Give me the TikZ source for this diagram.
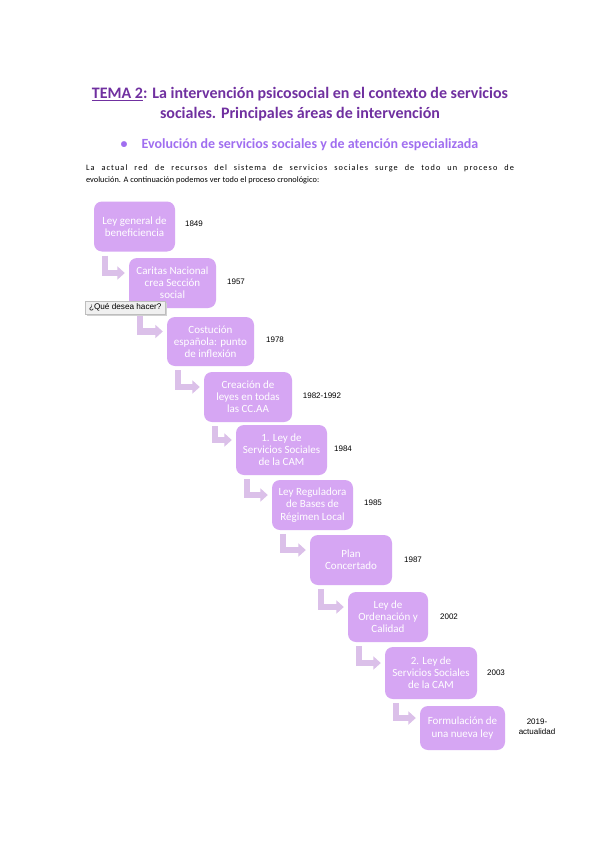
\documentclass[tikz,border=0pt]{standalone}
\usepackage{fontspec}
\setmainfont{Carlito}
\newfontfamily\arialf{Liberation Sans}
\newfontfamily\parwide[LetterSpace=13]{Carlito}
\newfontfamily\parnarrow[LetterSpace=0.5]{Carlito}
\usetikzlibrary{arrows.meta}
\definecolor{titlec}{RGB}{112,48,160}
\definecolor{subc}{RGB}{160,110,240}
\definecolor{boxc}{RGB}{214,166,243}
\definecolor{arrc}{RGB}{219,192,233}
\definecolor{tipfill}{RGB}{240,240,240}
\definecolor{tipdraw}{RGB}{190,190,190}
\begin{document}
\begin{tikzpicture}[x=1pt,y=-1pt,
  tbox/.style={fill=boxc, rounded corners=8pt, text=white, align=center,
    font=\fontsize{11}{12.2}\selectfont, inner sep=0pt},
  yr/.style={font=\arialf\fontsize{8}{9.5}\selectfont, align=center, inner sep=0pt},
  barrow/.style={draw=arrc, line width=6.5pt, line join=miter, line cap=butt,
    -{Triangle[width=13pt,length=7.5pt]}},
  ttl/.style={font=\fontsize{16}{19}\selectfont\bfseries, text=titlec, inner sep=0pt}]
\useasboundingbox (0,0) rectangle (599,848);
\fill[white] (0,0) rectangle (599,848);
% title
\node[ttl] (t1) at (300,94) {\underline{TEMA 2}: La intervención psicosocial en el contexto de servicios};
\node[ttl] (t2) at (300,114) {sociales. Principales áreas de intervención};
\node[font=\fontsize{14}{16}\selectfont\bfseries, text=subc, inner sep=0pt] (sub) at (299.5,145)
  {\textbullet\hspace{14pt}Evolución de servicios sociales y de atención especializada};
\node[font=\fontsize{8.3}{11.5}\selectfont, text width=428pt, align=justify, inner sep=0pt] (par) at (300,174.5)
  {{\parwide La actual red de recursos del sistema de servicios sociales surge de todo un proceso de}\linebreak
   {\parnarrow evolución. A continuación podemos ver todo el proceso cronológico:}};
% boxes
\node[tbox, minimum width=81pt, minimum height=50pt] (b1) at (134.5,226.5) {Ley general de\\beneficiencia};
\node[tbox, minimum width=87pt, minimum height=50pt] (b2) at (172.5,283) {Caritas Nacional\\crea Sección\\social};
\node[tbox, minimum width=87pt, minimum height=49pt] (b3) at (210.5,341.5) {Costución\\española: punto\\de inflexión};
\node[tbox, minimum width=88pt, minimum height=50pt] (b4) at (248,397) {Creación de\\leyes en todas\\las CC.AA};
\node[tbox, minimum width=91pt, minimum height=50pt] (b5) at (281.5,450) {1. Ley de\\Servicios Sociales\\de la CAM};
\node[tbox, minimum width=81pt, minimum height=50pt] (b6) at (312.5,505) {Ley Reguladora\\de Bases de\\Régimen Local};
\node[tbox, minimum width=82pt, minimum height=50pt] (b7) at (351,560) {Plan\\Concertado};
\node[tbox, minimum width=80pt, minimum height=50pt] (b8) at (388,617) {Ley de\\Ordenación y\\Calidad};
\node[tbox, minimum width=92pt, minimum height=52pt] (b9) at (431,673) {2. Ley de\\Servicios Sociales\\de la CAM};
\node[tbox, minimum width=85pt, minimum height=44pt] (b10) at (462.5,728) {Formulación de\\una nueva ley};
% arrows
\foreach \a/\b in {b1/b2,b2/b3,b3/b4,b4/b5,b5/b6,b6/b7,b7/b8,b8/b9,b9/b10}{
  \draw[barrow] ([xshift=11pt,yshift=-4pt]\a.south west) |- ([xshift=-4pt,yshift=10pt]\b.west);
}
% years
\node[yr] (y1) at (194,224) {1849};
\node[yr] (y2) at (236,282) {1957};
\node[yr] (y3) at (275,340) {1978};
\node[yr] (y4) at (322,396) {1982-1992};
\node[yr] (y5) at (343,449) {1984};
\node[yr] (y6) at (373,503) {1985};
\node[yr] (y7) at (413,560) {1987};
\node[yr] (y8) at (449,617) {2002};
\node[yr] (y9) at (496,673) {2003};
\node[yr] (y10) at (537,726.5) {2019-\\actualidad};
% tooltip
\fill[black!18] (86.5,302.5) rectangle (166.5,315.5);
\node[fill=tipfill, draw=tipdraw, line width=0.5pt, minimum width=80pt, minimum height=13pt, inner sep=0.5pt,
  font=\arialf\fontsize{8.2}{9}\selectfont, anchor=north west] (tip) at (85,301) {¿Qué desea hacer?\hfill};
\end{tikzpicture}
\end{document}
